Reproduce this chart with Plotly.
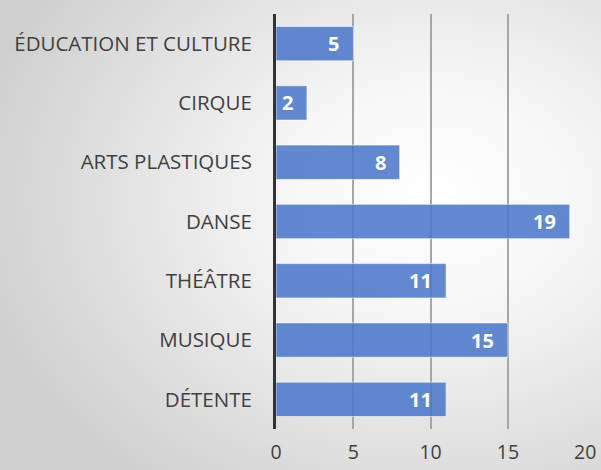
import plotly.graph_objects as go
import base64

categories = ["ÉDUCATION ET CULTURE", "CIRQUE", "ARTS PLASTIQUES", "DANSE", "THÉÂTRE", "MUSIQUE", "DÉTENTE"]
values = [5, 2, 8, 19, 11, 15, 11]
x_ticks = [0, 5, 10, 15, 20]

svg = """<svg xmlns='http://www.w3.org/2000/svg' width='601' height='470' viewBox='0 0 601 470' preserveAspectRatio='none'>
<defs><radialGradient id='g' cx='0.72' cy='0.42' r='0.78'>
<stop offset='0' stop-color='#ffffff'/><stop offset='0.3' stop-color='#f7f7f7'/><stop offset='1' stop-color='#cfcfcf'/>
</radialGradient></defs><rect width='601' height='470' fill='url(#g)'/></svg>"""
bg = "data:image/svg+xml;base64," + base64.b64encode(svg.encode()).decode()

L, R, T, B = 276, 15, 14, 41
PW, PH = 601 - L - R, 470 - T - B

fig = go.Figure(go.Bar(
    y=categories, x=values, orientation="h",
    marker=dict(color="rgba(76,119,201,0.88)", line=dict(color="rgba(255,255,255,0.6)", width=1)),
    width=0.58, hoverinfo="x+y",
))

annotations = [dict(x=v, y=c, xref="x", yref="y", text="<b>%d</b>" % v, showarrow=False,
                    xanchor="right", xshift=-12, font=dict(color="white", size=20, family="Open Sans"))
               for c, v in zip(categories, values)]

fig.update_layout(
    width=601, height=470,
    margin=dict(l=L, r=R, t=T, b=B),
    paper_bgcolor="rgba(0,0,0,0)", plot_bgcolor="rgba(0,0,0,0)",
    images=[dict(source=bg, xref="paper", yref="paper", x=-L / PW, y=1 + T / PH,
                 sizex=601 / PW, sizey=470 / PH, xanchor="left", yanchor="top",
                 sizing="stretch", layer="below")],
    annotations=annotations,
    showlegend=False,
    font=dict(family="Open Sans", color="#404040"),
)
fig.update_xaxes(range=[0, 20.05], tickvals=x_ticks, showgrid=True, gridcolor="#a6a6a6", gridwidth=1.5,
                 zeroline=False, showline=False, ticks="outside", ticklen=6, tickcolor="rgba(0,0,0,0)",
                 tickfont=dict(size=19.5, color="#404040"), automargin=False)
fig.update_yaxes(categoryorder="array", categoryarray=categories, autorange="reversed",
                 showline=True, linecolor="#333333", linewidth=3, ticks="outside", ticklen=17,
                 tickcolor="rgba(0,0,0,0)", tickfont=dict(size=20.5, color="#404040"), showgrid=False,
                 automargin=False)

fig.write_html("out.html", config={"displayModeBar": False},
               post_script="document.body.style.margin='0';document.body.style.overflow='hidden';")
